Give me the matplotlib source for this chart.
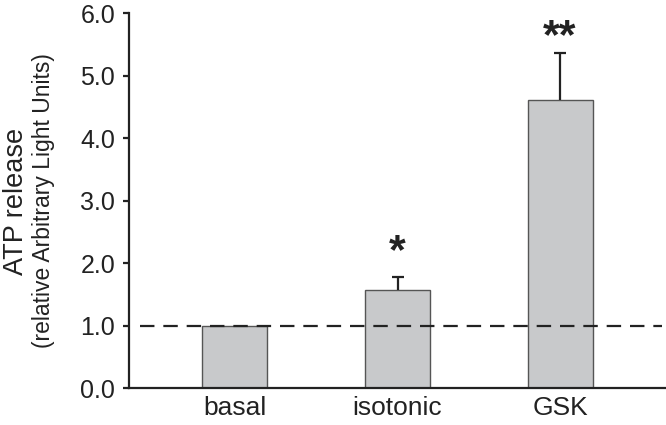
"""
Bar chart of ATP release (relative to basal) with upper error bars.
"""

import matplotlib
matplotlib.use("Agg")
import matplotlib.pyplot as plt

# Data
conditions = ["basal", "isotonic", "GSK"]
atp_release = [1.0, 1.57, 4.61]
atp_err = [0.0, 0.21, 0.75]
significance = ["", "*", "**"]
star_y = [0.0, 2.18, 5.62]
baseline = 1.0
y_ticks = [0.0, 1.0, 2.0, 3.0, 4.0, 5.0, 6.0]

plt.rcParams["font.family"] = ["Liberation Sans", "DejaVu Sans"]

fig = plt.figure(figsize=(6.66, 4.25), dpi=100)
ax = fig.add_axes([0.1937, 0.087, 0.8063, 0.8824])

x = list(range(len(conditions)))
ax.bar(x, atp_release, width=0.4, color="#c8c9cb", edgecolor="#555555",
       linewidth=1.0, zorder=2)

# upper-only error bars (no cap at the bar top)
for xi, v, e in zip(x, atp_release, atp_err):
    if e > 0:
        ax.vlines(xi, v, v + e, color="#222222", linewidth=1.6, zorder=3)
        ax.plot([xi], [v + e], marker="_", markersize=9, markeredgewidth=1.6,
                color="#222222", zorder=3)

# dashed reference line at basal level
ax.plot([-0.585, 2.63], [baseline, baseline], color="#222222", linewidth=1.6,
        linestyle=(0, (6.5, 4)), zorder=4)

for xi, s, sy in zip(x, significance, star_y):
    if s:
        ax.text(xi, sy, s, ha="center", va="center", fontsize=31,
                fontweight="bold", color="#222222")

ax.set_xlim(-0.652, 2.652)
ax.set_ylim(0, 6.0)
ax.set_yticks(y_ticks)
ax.set_yticklabels([f"{v:.1f}" for v in y_ticks])
ax.set_xticks(x)
ax.set_xticklabels(conditions)

for side in ["top", "right"]:
    ax.spines[side].set_visible(False)
for side in ["left", "bottom"]:
    ax.spines[side].set_linewidth(1.6)
    ax.spines[side].set_color("#222222")

ax.tick_params(axis="y", direction="out", length=4, width=1.6, color="#222222",
               labelsize=18, pad=6, labelcolor="#222222")
ax.tick_params(axis="x", length=0, labelsize=19, pad=6, labelcolor="#222222")

fig.text(16 / 666, 0.526, "ATP release", rotation=90, ha="center", va="center",
         fontsize=19.5, color="#222222")
fig.text(44 / 666, 0.529, "(relative Arbitrary Light Units)", rotation=90,
         ha="center", va="center", fontsize=16.5, color="#222222")

fig.savefig("out.png", dpi=100)
